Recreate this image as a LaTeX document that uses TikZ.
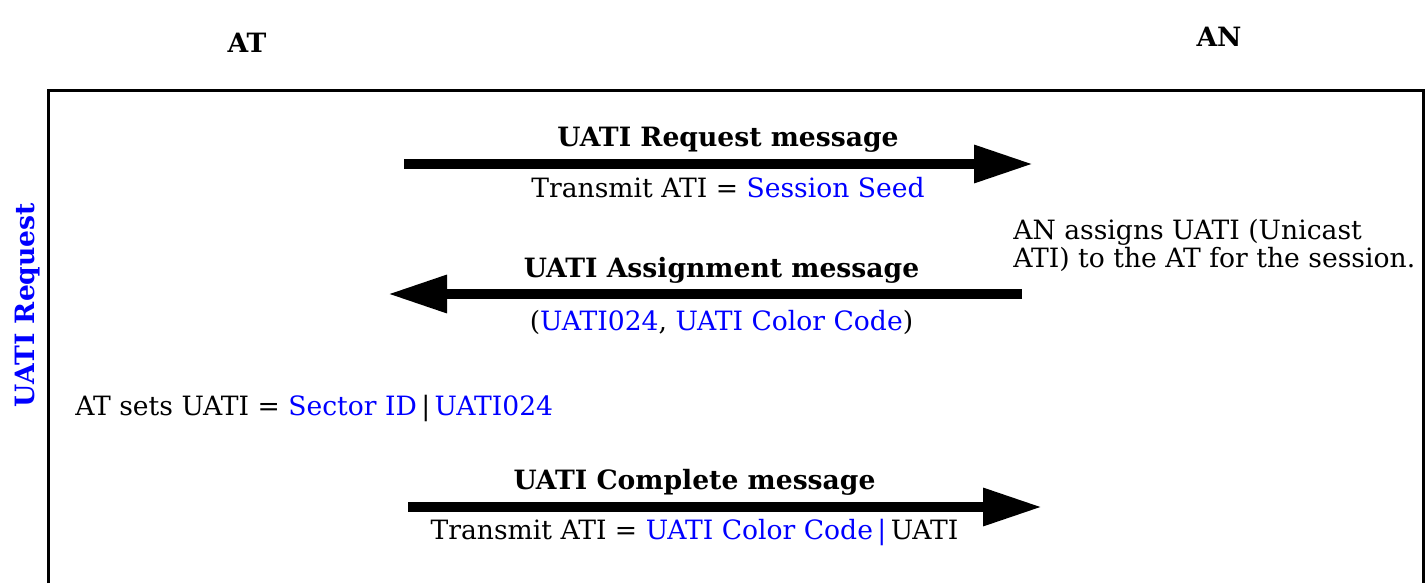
\documentclass[tikz,border=0pt]{standalone}
\usepackage{fontspec}
\setmainfont{DejaVu Serif}
\usetikzlibrary{arrows.meta}
\newcommand{\diagfont}{\fontsize{13.3pt}{14pt}\selectfont}

\begin{document}
\begin{tikzpicture}[
    x=0.5pt, y=-0.5pt,
    party/.style={font=\diagfont\bfseries},
    msgname/.style={font=\diagfont\bfseries},
    msgdata/.style={font=\diagfont},
    remark/.style={font=\diagfont, align=left, anchor=west, inner sep=0pt},
    signal/.style={line width=5pt, -{Triangle[open, length=31pt, width=17pt, line width=7pt]}},
    frame/.style={line width=1.5pt}
]
    \useasboundingbox (0,0) rectangle (1427,583);

    % Entities
    \node[party] (at) at (247,43) {AT};
    \node[party] (an) at (1219,37) {AN};

    % Procedure frame
    \draw[frame] (48,583) |- (1423,91) -- (1423,583);
    \node[party, text=blue, rotate=90] (phase) at (28,305) {UATI Request};

    % Arrow end points
    \coordinate (req-start) at (404,164);
    \coordinate (req-end) at (1036,164);
    \coordinate (asg-start) at (1022,294);
    \coordinate (asg-end) at (385,294);
    \coordinate (cmp-start) at (408,507);
    \coordinate (cmp-end) at (1045,507);

    % Messages
    \draw[signal] (req-start) -- node[msgname, xshift=4pt, yshift=12pt] {UATI Request message}
        node[msgdata, xshift=4pt, yshift=-12pt] {Transmit ATI = \textcolor{blue}{Session Seed}} (req-end);
    \draw[signal] (asg-start) -- node[msgname, xshift=9pt, yshift=12pt] {UATI Assignment message}
        node[msgdata, xshift=9pt, yshift=-14pt] {(\textcolor{blue}{UATI024}, \textcolor{blue}{UATI Color Code})} (asg-end);
    \draw[signal] (cmp-start) -- node[msgname, xshift=-16pt, yshift=12.5pt] {UATI Complete message}
        node[msgdata, xshift=-16pt, yshift=-12.5pt] {Transmit ATI = \textcolor{blue}{UATI Color Code\,|}\,UATI} (cmp-end);

    % Notes
    \node[remark] (assign) at (1013,245) {AN assigns UATI (Unicast\\ATI) to the AT for the session.};
    \node[remark] (sets) at (75,408) {AT sets UATI = \textcolor{blue}{Sector ID}\,|\,\textcolor{blue}{UATI024}};
\end{tikzpicture}
\end{document}
